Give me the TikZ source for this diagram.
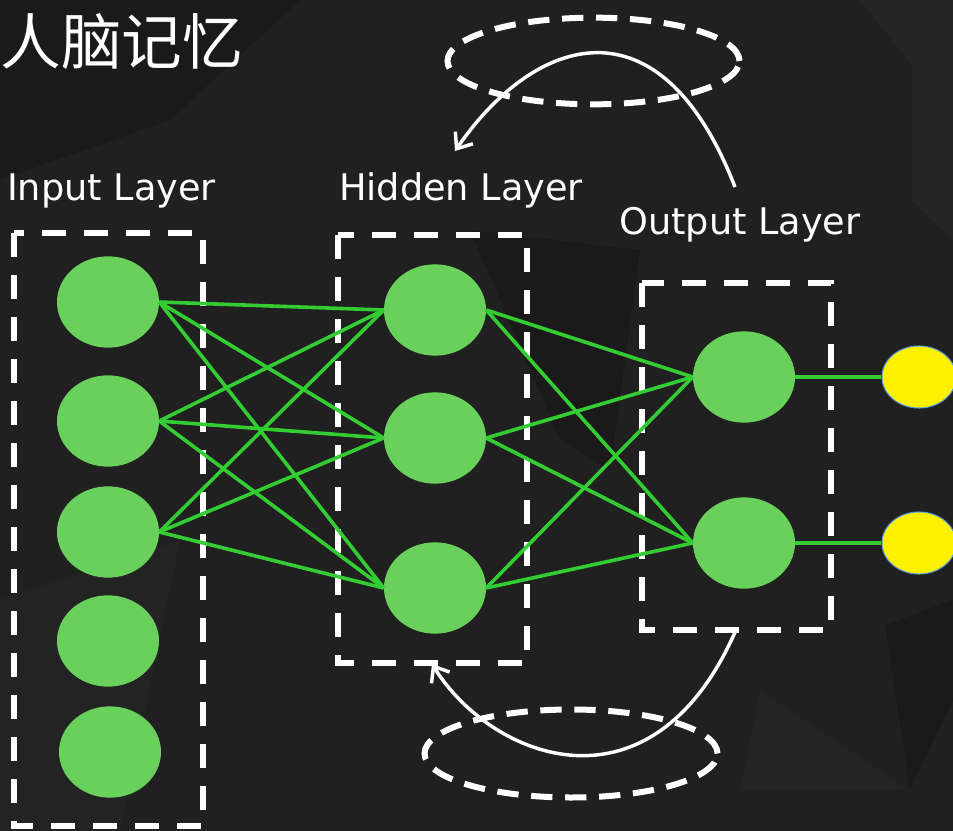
\documentclass[tikz,border=0pt]{standalone}
\usepackage{fontspec}
\setmainfont{DejaVu Sans}
\newfontfamily\cjk{Noto Sans CJK SC}
\usetikzlibrary{shapes.geometric,arrows.meta}
\definecolor{bg}{HTML}{202020}
\definecolor{bgdark}{HTML}{1A1A1A}
\definecolor{bglight}{HTML}{252525}
\definecolor{nodegreen}{HTML}{6AD05C}
\definecolor{linkgreen}{HTML}{33CC33}
\definecolor{ybord}{HTML}{5B9BD5}
\begin{document}
\begin{tikzpicture}[x=0.75pt,y=-0.75pt,
  neuron/.style={ellipse, fill=nodegreen, minimum width=76.5pt, minimum height=68.5pt, inner sep=0pt},
  outnode/.style={ellipse, fill=yellow, draw=ybord, line width=0.8pt, minimum width=55.5pt, minimum height=46.5pt, inner sep=0pt},
  link/.style={draw=linkgreen, line width=2.7pt},
  layerbox/.style={draw=white, line width=4.5pt, dash pattern=on 18pt off 13.5pt},
  loopring/.style={ellipse, draw=white, line width=4.5pt, dash pattern=on 16pt off 9.5pt, inner sep=0pt},
  looparrow/.style={draw=white, line width=2.6pt, -{Straight Barb[length=10pt,width=16pt]}},
  lbl/.style={text=white, font=\fontsize{27.5}{33}\selectfont, anchor=base, inner sep=0pt}]
\clip (0,0) rectangle (953,831);
% background
\fill[bg] (0,0) rectangle (953,831);
\fill[bglight] (860,0) -- (953,0) -- (953,240) -- (912,200) -- (912,65) -- cycle;
\fill[bgdark] (0,0) -- (300,0) -- (170,120) -- (0,180) -- cycle;
\fill[bgdark] (470,230) -- (640,250) -- (610,470) -- (560,440) -- cycle;
\fill[bglight!70!bg] (0,600) -- (180,540) -- (120,831) -- (0,831) -- cycle;
\fill[bgdark] (885,625) -- (953,600) -- (953,700) -- (910,790) -- cycle;
\fill[bglight!60!bg] (760,690) -- (910,790) -- (740,790) -- cycle;
% title
\node[text=white, font=\cjk\fontsize{45.5}{50}\selectfont, inner sep=0pt] (title) at (122,42) {人脑记忆};
% layer boxes
\draw[layerbox] (14,233) rectangle (203,826);
\draw[layerbox] (338,235) rectangle (527,663);
\draw[layerbox] (642,283) rectangle (831,630);
% labels
\node[lbl] (linput) at (111.5,200) {Input Layer};
\node[lbl] (lhidden) at (461,200) {Hidden Layer};
\node[lbl] (loutput) at (740,234) {Output Layer};
% neurons
\node[neuron] (i1) at (108,302) {};
\node[neuron] (i2) at (108,421) {};
\node[neuron] (i3) at (108,532) {};
\node[neuron] (i4) at (108,641) {};
\node[neuron] (i5) at (110,752) {};
\node[neuron] (h1) at (435,310) {};
\node[neuron] (h2) at (435,438) {};
\node[neuron] (h3) at (435,588) {};
\node[neuron] (o1) at (744,377) {};
\node[neuron] (o2) at (744,543) {};
\node[outnode] (y1) at (919,377) {};
\node[outnode] (y2) at (919,543) {};
% links
\foreach \a in {i1,i2,i3}
  \foreach \b in {h1,h2,h3}
    \draw[link] (\a.east) -- (\b.west);
\foreach \a in {h1,h2,h3}
  \foreach \b in {o1,o2}
    \draw[link] (\a.east) -- (\b.west);
\draw[link] (o1.east) -- (y1.west);
\draw[link] (o2.east) -- (y2.west);
% recurrent loops
\node[loopring, minimum width=219pt, minimum height=65pt] (ringtop) at (593.5,61) {};
\node[loopring, minimum width=219.75pt, minimum height=66pt] (ringbot) at (571,753.5) {};
\coordinate (ts) at (735,187);
\coordinate (te) at (455,151);
\draw[looparrow] (ts) .. controls (660,-6) and (535,35) .. (te);
\coordinate (bs) at (736,630);
\coordinate (be) at (432,664);
\draw[looparrow] (bs) .. controls (652,822) and (492,760) .. (be);
\end{tikzpicture}
\end{document}
